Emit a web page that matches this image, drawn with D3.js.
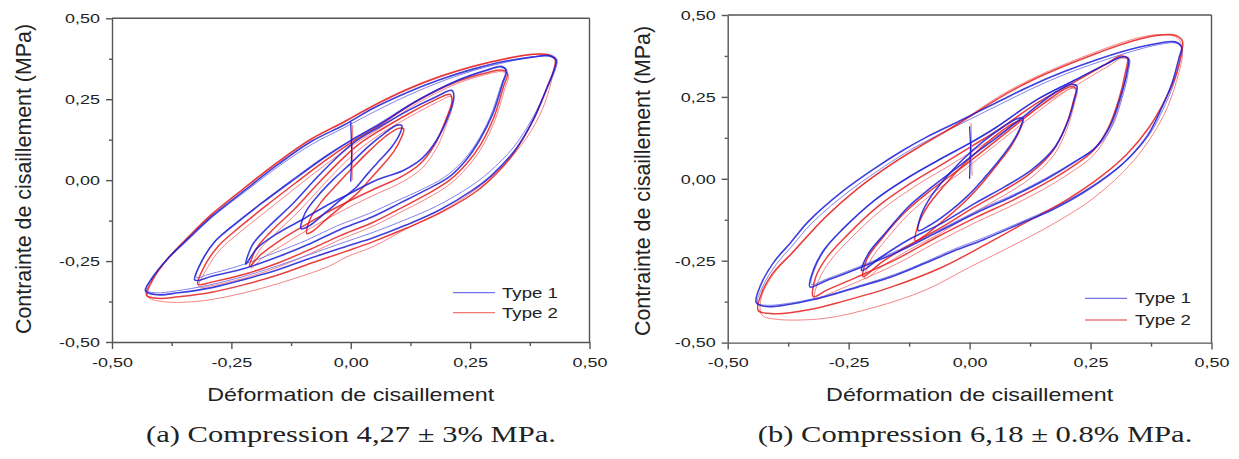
<!DOCTYPE html>
<html><head><meta charset="utf-8">
<script src="https://cdn.jsdelivr.net/npm/d3@7"></script>
<style>
body{margin:0;background:#fff;}
svg{display:block;}
text{font-family:"Liberation Sans",Arial,sans-serif;fill:#222;}
</style></head>
<body><svg id="c" width="1239" height="459"></svg>
<script>
// ---------- DATA ----------
const xTicks = [-0.5,-0.25,0,0.25,0.5];
const xTickLabels = ["-0,50","-0,25","0,00","0,25","0,50"];
const yTicks = [-0.5,-0.25,0,0.25,0.5];
const yTickLabels = ["-0,50","-0,25","0,00","0,25","0,50"];
const minorTicks = [-0.375,-0.125,0.125,0.375];
const seriesNames = ["Type 1","Type 2"];
const xTitle = "Déformation de cisaillement";
const yTitle = "Contrainte de cisaillement (MPa)";
const captions = ["(a) Compression 4,27 ± 3% MPa.","(b) Compression 6,18 ± 0.8% MPa."];

// panel (a) - Type 1
const a1_L4 = [[-0.430,-0.342],[-0.415,-0.300],[-0.385,-0.245],[-0.340,-0.180],[-0.291,-0.112],[-0.221,-0.030],[-0.151,0.050],[-0.082,0.120],[-0.012,0.172],[0.047,0.222],[0.117,0.270],[0.186,0.310],[0.256,0.343],[0.326,0.368],[0.380,0.380],[0.415,0.384],[0.430,0.372],[0.427,0.345],[0.412,0.290],[0.385,0.195],[0.345,0.095],[0.295,0.015],[0.256,-0.030],[0.186,-0.092],[0.117,-0.138],[0.047,-0.178],[-0.010,-0.205],[-0.082,-0.240],[-0.151,-0.276],[-0.221,-0.306],[-0.291,-0.332],[-0.361,-0.348],[-0.405,-0.354]];
const a1_L4b = [[-0.428,-0.340],[-0.412,-0.296],[-0.380,-0.240],[-0.336,-0.178],[-0.288,-0.112],[-0.218,-0.032],[-0.148,0.046],[-0.080,0.112],[-0.010,0.165],[0.050,0.212],[0.120,0.262],[0.190,0.305],[0.260,0.340],[0.330,0.366],[0.385,0.382],[0.420,0.386],[0.432,0.372],[0.428,0.340],[0.410,0.280],[0.380,0.190],[0.340,0.100],[0.290,0.025],[0.250,-0.020],[0.180,-0.080],[0.110,-0.125],[0.040,-0.165],[-0.020,-0.195],[-0.090,-0.232],[-0.160,-0.268],[-0.230,-0.300],[-0.300,-0.325],[-0.365,-0.342],[-0.408,-0.348]];
const a1_L3 = [[-0.327,-0.308],[-0.312,-0.250],[-0.285,-0.190],[-0.254,-0.150],[-0.187,-0.072],[-0.121,0.0],[-0.055,0.070],[0.0,0.122],[0.061,0.173],[0.136,0.243],[0.219,0.305],[0.280,0.337],[0.315,0.350],[0.326,0.340],[0.318,0.299],[0.298,0.207],[0.270,0.124],[0.242,0.063],[0.207,0.011],[0.158,-0.030],[0.103,-0.071],[0.047,-0.112],[-0.023,-0.153],[-0.082,-0.194],[-0.151,-0.236],[-0.221,-0.272],[-0.291,-0.297],[-0.320,-0.310]];
const a1_L3b = [[-0.324,-0.300],[-0.308,-0.240],[-0.280,-0.182],[-0.248,-0.140],[-0.180,-0.062],[-0.115,0.010],[-0.050,0.078],[0.005,0.128],[0.065,0.180],[0.140,0.248],[0.222,0.308],[0.282,0.340],[0.318,0.352],[0.324,0.335],[0.314,0.290],[0.292,0.195],[0.262,0.112],[0.232,0.055],[0.195,0.008],[0.150,-0.028],[0.095,-0.065],[0.040,-0.102],[-0.030,-0.142],[-0.090,-0.184],[-0.160,-0.225],[-0.228,-0.262],[-0.295,-0.290]];
const a1_L2 = [[-0.220,-0.260],[-0.206,-0.200],[-0.175,-0.148],[-0.121,-0.072],[-0.071,0.008],[-0.022,0.080],[0.012,0.122],[0.061,0.165],[0.119,0.214],[0.177,0.256],[0.212,0.277],[0.216,0.255],[0.205,0.200],[0.180,0.124],[0.150,0.068],[0.110,0.030],[0.053,0.0],[0.0,-0.040],[-0.055,-0.082],[-0.104,-0.124],[-0.154,-0.165],[-0.196,-0.210]];
const a1_L1 = [[-0.104,-0.150],[-0.096,-0.103],[-0.071,-0.052],[-0.038,0.0],[0.0,0.052],[0.036,0.103],[0.070,0.144],[0.097,0.170],[0.107,0.168],[0.103,0.144],[0.086,0.103],[0.061,0.062],[0.036,0.021],[0.012,-0.021],[-0.022,-0.062],[-0.055,-0.103],[-0.088,-0.142]];
const a1_start = [[0.0,-0.005],[0.002,0.09],[0.0,0.180]];
// panel (a) - Type 2
const a2_L4 = [[-0.428,-0.355],[-0.414,-0.305],[-0.385,-0.245],[-0.340,-0.175],[-0.291,-0.105],[-0.221,-0.022],[-0.151,0.058],[-0.082,0.128],[-0.012,0.182],[0.047,0.230],[0.117,0.280],[0.186,0.320],[0.256,0.352],[0.326,0.376],[0.375,0.388],[0.412,0.388],[0.428,0.372],[0.425,0.340],[0.410,0.280],[0.382,0.185],[0.340,0.080],[0.291,0.0],[0.256,-0.042],[0.186,-0.102],[0.117,-0.148],[0.047,-0.190],[-0.010,-0.220],[-0.082,-0.256],[-0.151,-0.292],[-0.221,-0.322],[-0.291,-0.346],[-0.361,-0.360],[-0.405,-0.365]];
const a2_L4b = [[-0.425,-0.360],[-0.395,-0.375],[-0.326,-0.375],[-0.256,-0.359],[-0.186,-0.334],[-0.116,-0.303],[-0.047,-0.267],[-0.010,-0.238],[0.047,-0.205],[0.117,-0.150],[0.186,-0.100],[0.256,-0.035],[0.326,0.055],[0.368,0.130],[0.403,0.225],[0.424,0.330],[0.428,0.372],[0.410,0.388],[0.370,0.386],[0.326,0.374],[0.256,0.350],[0.186,0.318],[0.117,0.278],[0.047,0.228],[-0.012,0.180],[-0.082,0.126],[-0.151,0.056],[-0.221,-0.024],[-0.291,-0.108],[-0.340,-0.178],[-0.385,-0.248],[-0.414,-0.308]];
const a2_L3 = [[-0.320,-0.322],[-0.305,-0.262],[-0.278,-0.205],[-0.245,-0.160],[-0.180,-0.082],[-0.115,-0.008],[-0.050,0.064],[0.0,0.115],[0.061,0.170],[0.136,0.242],[0.219,0.302],[0.280,0.330],[0.315,0.340],[0.328,0.330],[0.320,0.290],[0.300,0.195],[0.272,0.110],[0.242,0.050],[0.207,0.0],[0.158,-0.045],[0.103,-0.088],[0.047,-0.130],[-0.023,-0.172],[-0.082,-0.212],[-0.151,-0.255],[-0.221,-0.290],[-0.291,-0.315]];
const a2_L3b = [[-0.318,-0.330],[-0.300,-0.270],[-0.272,-0.212],[-0.238,-0.168],[-0.172,-0.090],[-0.108,-0.015],[-0.044,0.058],[0.006,0.110],[0.066,0.165],[0.140,0.238],[0.222,0.298],[0.282,0.326],[0.318,0.335],[0.330,0.325],[0.322,0.280],[0.302,0.185],[0.274,0.100],[0.244,0.040],[0.208,-0.012],[0.158,-0.058],[0.103,-0.100],[0.047,-0.142],[-0.023,-0.184],[-0.082,-0.225],[-0.151,-0.268],[-0.221,-0.302],[-0.291,-0.326]];
const a2_L2 = [[-0.212,-0.268],[-0.198,-0.212],[-0.168,-0.160],[-0.115,-0.085],[-0.065,-0.005],[-0.016,0.068],[0.018,0.112],[0.066,0.158],[0.122,0.206],[0.177,0.248],[0.208,0.265],[0.212,0.245],[0.200,0.190],[0.176,0.110],[0.145,0.050],[0.105,0.010],[0.053,-0.025],[0.0,-0.062],[-0.055,-0.104],[-0.104,-0.146],[-0.150,-0.188],[-0.190,-0.232]];
const a2_L2b = [[-0.208,-0.272],[-0.192,-0.218],[-0.160,-0.168],[-0.108,-0.095],[-0.058,-0.015],[-0.010,0.058],[0.024,0.102],[0.070,0.150],[0.126,0.198],[0.180,0.240],[0.210,0.258],[0.214,0.238],[0.203,0.182],[0.180,0.100],[0.150,0.038],[0.110,-0.004],[0.058,-0.040],[0.004,-0.078],[-0.050,-0.120],[-0.100,-0.162],[-0.146,-0.204],[-0.186,-0.242]];
const a2_L1 = [[-0.092,-0.165],[-0.085,-0.120],[-0.062,-0.068],[-0.030,-0.015],[0.005,0.040],[0.040,0.092],[0.072,0.134],[0.100,0.160],[0.111,0.158],[0.106,0.132],[0.090,0.088],[0.066,0.045],[0.040,0.002],[0.014,-0.040],[-0.020,-0.082],[-0.052,-0.122],[-0.080,-0.158]];
const a2_start = [[0.003,0.0],[0.004,0.170]];

// panel (b) - Type 1
const b1_L4 = [[-0.441,-0.378],[-0.432,-0.325],[-0.405,-0.255],[-0.370,-0.195],[-0.333,-0.130],[-0.264,-0.040],[-0.196,0.032],[-0.140,0.085],[-0.092,0.125],[-0.023,0.175],[0.059,0.235],[0.128,0.285],[0.197,0.328],[0.266,0.365],[0.335,0.396],[0.390,0.414],[0.425,0.418],[0.438,0.402],[0.433,0.370],[0.418,0.290],[0.395,0.210],[0.369,0.135],[0.330,0.065],[0.300,0.025],[0.232,-0.045],[0.170,-0.095],[0.100,-0.140],[0.030,-0.185],[-0.040,-0.225],[-0.092,-0.258],[-0.161,-0.299],[-0.230,-0.330],[-0.299,-0.360],[-0.368,-0.382],[-0.420,-0.390]];
const b1_L4b = [[-0.438,-0.380],[-0.428,-0.330],[-0.400,-0.262],[-0.365,-0.202],[-0.328,-0.138],[-0.258,-0.048],[-0.190,0.024],[-0.134,0.078],[-0.086,0.118],[-0.018,0.168],[0.064,0.228],[0.133,0.278],[0.202,0.322],[0.270,0.358],[0.338,0.390],[0.392,0.410],[0.428,0.414],[0.440,0.398],[0.436,0.365],[0.422,0.290],[0.400,0.212],[0.374,0.140],[0.336,0.072],[0.305,0.032],[0.238,-0.036],[0.176,-0.086],[0.106,-0.132],[0.036,-0.176],[-0.034,-0.216],[-0.086,-0.250],[-0.155,-0.292],[-0.225,-0.325],[-0.295,-0.356],[-0.365,-0.378],[-0.418,-0.386]];
const b1_L3 = [[-0.330,-0.330],[-0.322,-0.275],[-0.300,-0.215],[-0.264,-0.156],[-0.196,-0.065],[-0.127,0.004],[-0.058,0.062],[0.0,0.108],[0.053,0.155],[0.135,0.238],[0.216,0.300],[0.282,0.350],[0.314,0.372],[0.328,0.368],[0.326,0.330],[0.312,0.250],[0.290,0.160],[0.260,0.095],[0.216,0.050],[0.160,0.0],[0.094,-0.050],[0.012,-0.105],[-0.069,-0.165],[-0.151,-0.225],[-0.233,-0.275],[-0.298,-0.312]];
const b1_L3b = [[-0.327,-0.322],[-0.318,-0.268],[-0.295,-0.208],[-0.258,-0.148],[-0.190,-0.058],[-0.120,0.010],[-0.052,0.068],[0.004,0.113],[0.058,0.160],[0.140,0.242],[0.220,0.304],[0.285,0.352],[0.316,0.372],[0.330,0.366],[0.328,0.325],[0.315,0.245],[0.294,0.158],[0.264,0.098],[0.220,0.056],[0.165,0.008],[0.100,-0.042],[0.018,-0.096],[-0.062,-0.156],[-0.145,-0.216],[-0.228,-0.268],[-0.294,-0.305]];
const b1_L2 = [[-0.223,-0.280],[-0.209,-0.228],[-0.175,-0.167],[-0.127,-0.086],[-0.078,-0.025],[-0.023,0.037],[0.011,0.077],[0.060,0.130],[0.120,0.200],[0.175,0.262],[0.210,0.288],[0.222,0.282],[0.218,0.250],[0.204,0.179],[0.177,0.098],[0.128,0.027],[0.073,-0.024],[0.011,-0.075],[-0.058,-0.136],[-0.127,-0.187],[-0.182,-0.238]];
const b1_L1 = [[-0.106,-0.158],[-0.100,-0.110],[-0.078,-0.050],[-0.045,0.010],[-0.012,0.062],[0.029,0.115],[0.069,0.158],[0.098,0.183],[0.110,0.185],[0.106,0.160],[0.090,0.115],[0.064,0.062],[0.030,0.002],[-0.004,-0.052],[-0.045,-0.104],[-0.086,-0.145]];
const b1_start = [[0.0,0.0],[0.002,0.100],[0.0,0.160]];
// panel (b) - Type 2
const b2_L4 = [[-0.437,-0.402],[-0.430,-0.350],[-0.405,-0.285],[-0.368,-0.228],[-0.299,-0.118],[-0.230,-0.028],[-0.161,0.045],[-0.092,0.108],[-0.023,0.168],[0.059,0.245],[0.128,0.300],[0.197,0.345],[0.266,0.385],[0.335,0.420],[0.390,0.438],[0.425,0.438],[0.440,0.420],[0.438,0.385],[0.425,0.310],[0.402,0.235],[0.370,0.155],[0.325,0.075],[0.270,0.005],[0.200,-0.065],[0.120,-0.130],[0.040,-0.195],[-0.057,-0.270],[-0.161,-0.330],[-0.264,-0.375],[-0.333,-0.400],[-0.400,-0.412]];
const b2_L4b = [[-0.430,-0.415],[-0.404,-0.428],[-0.299,-0.426],[-0.196,-0.392],[-0.092,-0.340],[0.0,-0.270],[0.094,-0.200],[0.176,-0.135],[0.257,-0.058],[0.339,0.055],[0.400,0.190],[0.428,0.300],[0.440,0.390],[0.430,0.430],[0.390,0.440],[0.335,0.425],[0.266,0.390],[0.197,0.350],[0.128,0.305],[0.059,0.250],[-0.023,0.170],[-0.092,0.110],[-0.161,0.046],[-0.230,-0.030],[-0.299,-0.120],[-0.368,-0.230],[-0.405,-0.290],[-0.430,-0.360]];
const b2_L3 = [[-0.323,-0.360],[-0.318,-0.300],[-0.295,-0.240],[-0.255,-0.175],[-0.190,-0.085],[-0.120,-0.012],[-0.050,0.050],[0.005,0.100],[0.060,0.150],[0.140,0.232],[0.220,0.298],[0.284,0.352],[0.312,0.375],[0.326,0.368],[0.322,0.325],[0.308,0.240],[0.285,0.150],[0.255,0.085],[0.210,0.035],[0.155,-0.015],[0.090,-0.065],[0.010,-0.120],[-0.070,-0.180],[-0.151,-0.245],[-0.233,-0.300],[-0.295,-0.340]];
const b2_L3b = [[-0.320,-0.368],[-0.312,-0.310],[-0.288,-0.250],[-0.248,-0.185],[-0.182,-0.095],[-0.112,-0.022],[-0.042,0.040],[0.012,0.090],[0.066,0.140],[0.146,0.222],[0.225,0.290],[0.288,0.345],[0.315,0.368],[0.328,0.362],[0.324,0.318],[0.310,0.230],[0.287,0.140],[0.256,0.072],[0.210,0.020],[0.155,-0.030],[0.090,-0.080],[0.010,-0.135],[-0.070,-0.195],[-0.151,-0.260],[-0.233,-0.315],[-0.292,-0.352]];
const b2_L2 = [[-0.220,-0.299],[-0.212,-0.245],[-0.180,-0.180],[-0.132,-0.100],[-0.080,-0.035],[-0.020,0.030],[0.015,0.070],[0.062,0.125],[0.122,0.195],[0.176,0.255],[0.210,0.282],[0.220,0.275],[0.215,0.240],[0.200,0.165],[0.172,0.085],[0.124,0.015],[0.070,-0.036],[0.008,-0.088],[-0.060,-0.150],[-0.128,-0.205],[-0.185,-0.258]];
const b2_L2b = [[-0.216,-0.305],[-0.206,-0.252],[-0.174,-0.188],[-0.126,-0.108],[-0.074,-0.042],[-0.014,0.024],[0.020,0.064],[0.066,0.118],[0.126,0.188],[0.180,0.248],[0.212,0.276],[0.222,0.268],[0.217,0.232],[0.202,0.155],[0.174,0.072],[0.126,0.002],[0.072,-0.050],[0.010,-0.102],[-0.058,-0.164],[-0.126,-0.218],[-0.182,-0.268]];
const b2_L1 = [[-0.112,-0.190],[-0.106,-0.140],[-0.085,-0.080],[-0.052,-0.020],[-0.015,0.040],[0.028,0.100],[0.068,0.148],[0.098,0.175],[0.110,0.178],[0.104,0.150],[0.086,0.100],[0.058,0.045],[0.025,-0.015],[-0.010,-0.070],[-0.050,-0.122],[-0.090,-0.170]];
const b2_start = [[0.005,0.010],[0.003,0.170]];

// ---------- DRAW ----------
const SX = 1.33;
const svg = d3.select("#c");
const BLUE = "#1c1cd8", RED = "#e81c1c";
const BLUE_L = "#7474e8", RED_L = "#f27878";

function stretch(sel, sx){
  sel.each(function(){
    const t = d3.select(this);
    const x = +t.attr("x")||0, y = +t.attr("y")||0;
    t.attr("transform", `translate(${x},${y}) scale(${sx},1) translate(${-x},${-y})`);
  });
}

const panels = [
  {xr:[112,589.5], yr:[342,18.3], t1:[a1_L4,a1_L3,a1_L2,a1_L1], t1b:[a1_L4b,a1_L3b], t2:[a2_L4,a2_L3,a2_L2,a2_L1], t2b:[a2_L4b,a2_L3b,a2_L2b], s1:a1_start, s2:a2_start,
   leg:{x0:453,x1:495,y1:292.7,y2:312.7,tx:502}, ylab:{x:31,y:179}, cap:{x:351}},
  {xr:[727.7,1211.5], yr:[342.6,15], t1:[b1_L4,b1_L3,b1_L2,b1_L1], t1b:[b1_L4b,b1_L3b], t2:[b2_L4,b2_L3,b2_L2,b2_L1], t2b:[b2_L4b,b2_L3b,b2_L2b], s1:b1_start, s2:b2_start,
   leg:{x0:1085,x1:1127,y1:298.3,y2:320,tx:1135}, ylab:{x:650,y:181}, cap:{x:975}}
];

panels.forEach((p,pi)=>{
  const x = d3.scaleLinear().domain([-0.5,0.5]).range(p.xr);
  const y = d3.scaleLinear().domain([-0.5,0.5]).range(p.yr);
  const g = svg.append("g");
  const loop = d3.line().x(d=>x(d[0])).y(d=>y(d[1])).curve(d3.curveCatmullRomClosed.alpha(0.5));
  const open = d3.line().x(d=>x(d[0])).y(d=>y(d[1]));

  p.t2b.forEach(L=> g.append("path").attr("d",loop(L)).attr("fill","none").attr("stroke",RED_L).attr("stroke-width",1).attr("opacity",0.9));
  p.t1b.forEach(L=> g.append("path").attr("d",loop(L)).attr("fill","none").attr("stroke",BLUE_L).attr("stroke-width",1).attr("opacity",0.9));
  p.t2.forEach(L=> g.append("path").attr("d",loop(L)).attr("fill","none").attr("stroke",RED).attr("stroke-width",1.5).attr("opacity",0.85));
  g.append("path").attr("d",open(p.s2)).attr("fill","none").attr("stroke",RED_L).attr("stroke-width",1);
  p.t1.forEach(L=> g.append("path").attr("d",loop(L)).attr("fill","none").attr("stroke",BLUE).attr("stroke-width",1.6).attr("opacity",0.85));
  g.append("path").attr("d",open(p.s1)).attr("fill","none").attr("stroke",BLUE).attr("stroke-width",1.2);

  const axCol = "#555";
  const xa = g.append("g").attr("transform",`translate(0,${p.yr[0]})`)
    .call(d3.axisBottom(x).tickValues(xTicks).tickFormat((d,i)=>xTickLabels[i]).tickSize(7).tickPadding(8).tickSizeOuter(0));
  g.append("g").attr("transform",`translate(0,${p.yr[0]})`)
    .call(d3.axisBottom(x).tickValues(minorTicks).tickFormat("").tickSize(4).tickSizeOuter(0))
    .select(".domain").remove();
  const ya = g.append("g").attr("transform",`translate(${p.xr[0]},0)`)
    .call(d3.axisLeft(y).tickValues(yTicks).tickFormat((d,i)=>yTickLabels[i]).tickSize(6).tickPadding(6).tickSizeOuter(0));
  g.append("g").attr("transform",`translate(${p.xr[0]},0)`)
    .call(d3.axisLeft(y).tickValues(minorTicks).tickFormat("").tickSize(3).tickSizeOuter(0))
    .select(".domain").remove();
  g.append("line").attr("x1",p.xr[0]).attr("x2",p.xr[1]).attr("y1",p.yr[1]).attr("y2",p.yr[1]).attr("stroke",axCol).attr("stroke-width",1.4);
  g.append("line").attr("x1",p.xr[1]).attr("x2",p.xr[1]).attr("y1",p.yr[1]).attr("y2",p.yr[0]).attr("stroke",axCol).attr("stroke-width",1.4);
  g.selectAll(".domain, .tick line").attr("stroke",axCol).attr("stroke-width",1.4);
  g.selectAll(".tick text").attr("font-size",13.5).attr("fill","#222").style("font-family","'Liberation Sans',Arial,sans-serif");
  stretch(xa.selectAll(".tick text"), SX);
  stretch(ya.selectAll(".tick text"), SX);

  const xt = g.append("text").attr("x",(p.xr[0]+p.xr[1])/2).attr("y",401).attr("text-anchor","middle").attr("font-size",17.5).text(xTitle);
  stretch(xt, SX);
  g.append("text").attr("text-anchor","middle").attr("font-size",19)
    .attr("transform",`translate(${p.ylab.x},${p.ylab.y}) scale(1.2,1) rotate(-90)`)
    .attr("textLength",310).attr("lengthAdjust","spacingAndGlyphs").text(yTitle);

  g.append("line").attr("x1",p.leg.x0).attr("x2",p.leg.x1).attr("y1",p.leg.y1).attr("y2",p.leg.y1).attr("stroke",BLUE_L).attr("stroke-width",1.3);
  g.append("line").attr("x1",p.leg.x0).attr("x2",p.leg.x1).attr("y1",p.leg.y2).attr("y2",p.leg.y2).attr("stroke",RED_L).attr("stroke-width",1.3);
  const l1 = g.append("text").attr("x",p.leg.tx).attr("y",p.leg.y1+5).attr("font-size",14).attr("fill","#111").text(seriesNames[0]);
  const l2 = g.append("text").attr("x",p.leg.tx).attr("y",p.leg.y2+5).attr("font-size",14).attr("fill","#111").text(seriesNames[1]);
  stretch(l1, SX); stretch(l2, SX);

  const cp = svg.append("text").attr("x",p.cap.x).attr("y",442).attr("text-anchor","middle")
    .attr("font-size",23).style("font-family","'Liberation Serif','Times New Roman',serif").attr("fill","#000").text(captions[pi]);
  stretch(cp, SX);
});
</script></body></html>
